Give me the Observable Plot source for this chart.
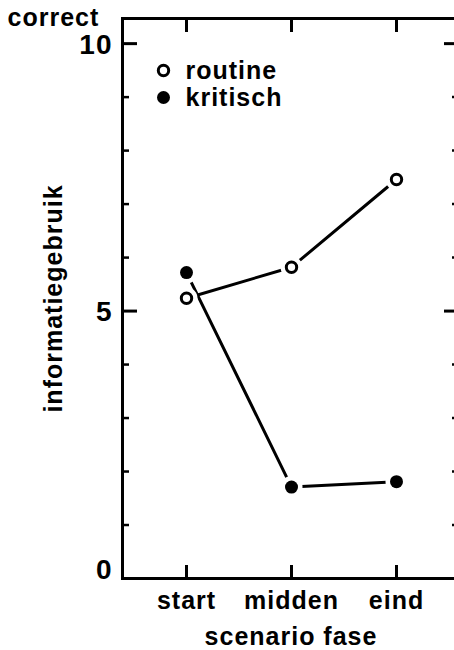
<!DOCTYPE html>
<html>
<head>
<meta charset="utf-8">
<script src="https://cdn.jsdelivr.net/npm/d3@7"></script>
<script src="https://cdn.jsdelivr.net/npm/@observablehq/plot@0.6"></script>
<style>
  html, body { margin: 0; padding: 0; background: #fff; overflow: hidden; }
  #chart { width: 454px; height: 650px; overflow: hidden; }
  #chart svg { display: block; max-width: none !important; }
</style>
</head>
<body>
<div id="chart"></div>
<script>
// ---- data ----
const phases = ["start", "midden", "eind"];
const seriesNames = ["routine", "kritisch"];
const routine = [5.24, 5.82, 7.46];
const kritisch = [5.72, 1.71, 1.81];
const yMajorTicks = [0, 5, 10];
const yMinorTicks = [1, 2, 3, 4, 6, 7, 8, 9];
const yDomain = [0, 10.47];
const xTitle = "scenario fase";
const yTitle = "informatiegebruik";
const cornerTitle = "correct";

// table for the library
const data = phases.flatMap((p, i) => [
  {series: seriesNames[0], phase: p, value: routine[i]},
  {series: seriesNames[1], phase: p, value: kritisch[i]}
]);

// layout
const W = 462, H = 650, mL = 122, mR = 3, mT = 18, mB = 72;
const pw = W - mL - mR, ph = H - mT - mB;
const txt = {fontSize: 25, fontWeight: "bold", fill: "black"};
const num = {fontSize: 28, fontWeight: "bold", fill: "black"};

const chart = Plot.plot({
  width: W, height: H,
  marginLeft: mL, marginRight: mR, marginTop: mT, marginBottom: mB,
  style: {fontFamily: "'Liberation Sans', Arial, sans-serif", background: "white", color: "black", letterSpacing: "1px", maxWidth: "none", overflow: "visible"},
  x: {type: "point", domain: phases, padding: 0.6, axis: null},
  y: {domain: yDomain, axis: null},
  marks: [
    Plot.frame({stroke: "black", strokeWidth: 3}),
    // inward ticks, left and right
    Plot.tickY(yMajorTicks, {y: d => d, insetRight: pw - 15, strokeWidth: 3}),
    Plot.tickY(yMinorTicks, {y: d => d, insetRight: pw - 7, strokeWidth: 2.5}),
    Plot.tickY(yMajorTicks, {y: d => d, insetLeft: pw - 15, strokeWidth: 3}),
    Plot.tickY(yMinorTicks, {y: d => d, insetLeft: pw - 7, strokeWidth: 2.5}),
    // inward ticks, bottom and top
    Plot.tickX(phases, {x: d => d, insetTop: ph - 13, strokeWidth: 3}),
    Plot.tickX(phases, {x: d => d, insetBottom: ph - 14, strokeWidth: 3}),
    // y tick labels
    Plot.text(yMajorTicks.filter(d => d !== 0), {y: d => d, text: d => String(d), frameAnchor: "left", textAnchor: "end", dx: -10, dy: 1, ...num}),
    Plot.text(yMajorTicks.filter(d => d === 0), {y: d => d, text: d => String(d), frameAnchor: "left", textAnchor: "end", dx: -10, dy: -8, ...num}),
    // x tick labels
    Plot.text(phases, {x: d => d, text: d => d, frameAnchor: "bottom", lineAnchor: "bottom", dy: 30, ...txt}),
    // axis titles
    Plot.text([xTitle], {text: d => d, frameAnchor: "bottom", lineAnchor: "bottom", dy: 66, ...txt}),
    Plot.text([yTitle], {text: d => d, frameAnchor: "left", textAnchor: "middle", rotate: -90, lineAnchor: "bottom", dx: -61, ...txt}),
    Plot.text([cornerTitle], {text: d => d, frameAnchor: "top-left", textAnchor: "start", lineAnchor: "bottom", dx: -115, dy: 7, ...txt}),
    // legend
    Plot.dot([seriesNames[0]], {frameAnchor: "top-left", dx: 41, dy: 52, r: 5.2, fill: "white", stroke: "black", strokeWidth: 3}),
    Plot.dot([seriesNames[1]], {frameAnchor: "top-left", dx: 41, dy: 79, r: 6.5, fill: "black", stroke: "none"}),
    Plot.text([seriesNames[0]], {text: d => d, frameAnchor: "top-left", textAnchor: "start", lineAnchor: "bottom", dx: 63, dy: 60, ...txt}),
    Plot.text([seriesNames[1]], {text: d => d, frameAnchor: "top-left", textAnchor: "start", lineAnchor: "bottom", dx: 63, dy: 87, ...txt}),
    // data
    Plot.line(data, {x: "phase", y: "value", z: "series", stroke: "black", strokeWidth: 3}),
    Plot.dot(data, {x: "phase", y: "value", r: 11, fill: "white", stroke: "none"}),
    Plot.dot(data.filter(d => d.series === seriesNames[0]), {x: "phase", y: "value", r: 5.2, fill: "white", stroke: "black", strokeWidth: 3}),
    Plot.dot(data.filter(d => d.series === seriesNames[1]), {x: "phase", y: "value", r: 6.5, fill: "black", stroke: "none"})
  ]
});
document.getElementById("chart").appendChild(chart);
</script>
</body>
</html>
